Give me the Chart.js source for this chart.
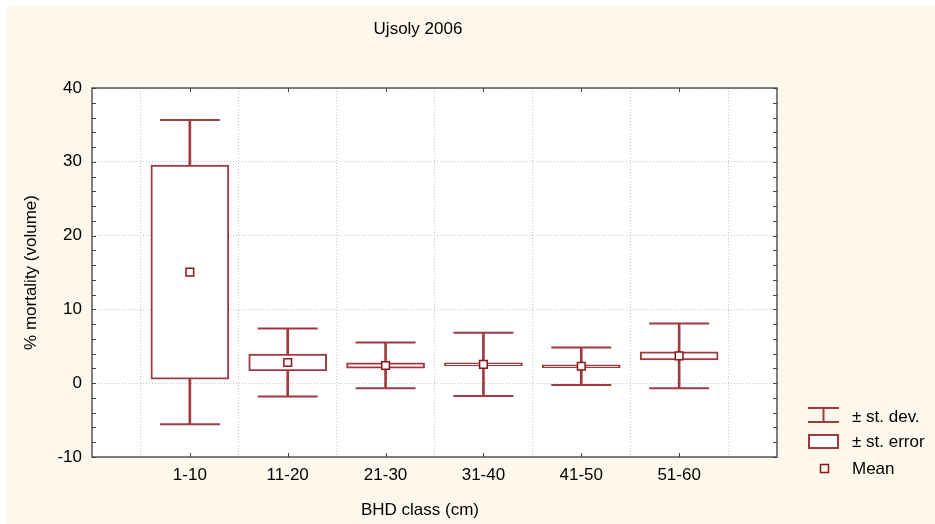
<!DOCTYPE html>
<html>
<head>
<meta charset="utf-8">
<script src="https://cdn.jsdelivr.net/npm/chart.js@4.4.1/dist/chart.umd.min.js"></script>
<style>
  html, body { margin: 0; padding: 0; background: #fff; }
  #wrap { position: relative; width: 935px; height: 524px; overflow: hidden; }
  #bg { position: absolute; left: 7px; top: 6px; right: 0; bottom: 0; background: #fef8ec; }
  #c { position: absolute; left: 0; top: 0; }
</style>
</head>
<body>
<div id="wrap"><div id="bg"></div><canvas id="c" width="935" height="524"></canvas></div>
<script>
/* Ujsoly 2006 — % mortality by BHD class, mean ± SE ± SD */
const classes = ["1-10", "11-20", "21-30", "31-40", "41-50", "51-60"];
const means   = [15.05, 2.8, 2.4, 2.55, 2.3, 3.7];
const stdErr  = [14.5, 1.15, 0.35, 0.2, 0.18, 0.55];
const stdDev  = [20.6, 4.6, 3.1, 4.3, 2.53, 4.4];
const yMin = -10, yMax = 40, yStep = 10;

const FONT = "'Liberation Sans', Arial, sans-serif";
const RED = "#a13a40";
const DARK = "#8b1418";

const xs = classes.map((_, i) => i + 1);
const boxData  = xs.map((x, i) => ({ x, y: [means[i] - stdErr[i], means[i] + stdErr[i]] }));
const stemData = xs.map((x, i) => ({ x, y: [means[i] - stdDev[i], means[i] + stdDev[i]] }));
const capData  = xs.flatMap((x, i) => [{ x, y: means[i] + stdDev[i] }, { x, y: means[i] - stdDev[i] }]);
const meanData = xs.map((x, i) => ({ x, y: means[i] }));

const frame = {
  id: "frame",
  beforeDraw(chart) {
    const { ctx, chartArea: a } = chart;
    ctx.save();
    ctx.fillStyle = "#fff";
    ctx.fillRect(a.left, a.top, a.right - a.left, a.bottom - a.top);
    ctx.restore();
  },
  afterDraw(chart) {
    const { ctx, chartArea: a, scales } = chart;
    ctx.save();
    // frame
    ctx.strokeStyle = "#555";
    ctx.lineWidth = 1.5;
    ctx.strokeRect(a.left, a.top, a.right - a.left, a.bottom - a.top);
    ctx.strokeStyle = "#7d7d7d";
    ctx.lineWidth = 2;
    ctx.beginPath(); ctx.moveTo(a.right, a.top); ctx.lineTo(a.right, a.bottom + 1); ctx.stroke();
    // inner tick marks
    ctx.strokeStyle = "#444";
    ctx.lineWidth = 1;
    ctx.beginPath();
    for (let v = yMin; v <= yMax; v += 2) {
      const y = Math.round(scales.y.getPixelForValue(v)) + 0.5;
      ctx.moveTo(a.left, y); ctx.lineTo(a.left + 4, y);
      ctx.moveTo(a.right - 4, y); ctx.lineTo(a.right, y);
    }
    xs.forEach((v) => {
      const x = Math.round(scales.x.getPixelForValue(v)) + 0.5;
      ctx.moveTo(x, a.bottom); ctx.lineTo(x, a.bottom - 4);
      ctx.moveTo(x, a.top); ctx.lineTo(x, a.top + 4);
    });
    ctx.stroke();

    // titles
    ctx.fillStyle = "#000";
    ctx.font = `17px ${FONT}`;
    ctx.textAlign = "center";
    ctx.textBaseline = "alphabetic";
    ctx.fillText("Ujsoly 2006", 418, 34);
    ctx.fillText("BHD class (cm)", 420, 515);
    ctx.save();
    ctx.translate(36, (a.top + a.bottom) / 2);
    ctx.rotate(-Math.PI / 2);
    ctx.fillText("% mortality (volume)", 0, 0);
    ctx.restore();

    // legend
    ctx.strokeStyle = RED;
    ctx.lineWidth = 2;
    ctx.beginPath();
    ctx.moveTo(808, 408); ctx.lineTo(839, 408);
    ctx.moveTo(808, 422); ctx.lineTo(839, 422);
    ctx.moveTo(823.5, 408); ctx.lineTo(823.5, 422);
    ctx.stroke();
    ctx.fillStyle = "#fff";
    ctx.fillRect(809, 435, 29, 13);
    ctx.strokeRect(809, 435, 29, 13);
    ctx.strokeStyle = DARK;
    ctx.lineWidth = 1.5;
    ctx.strokeRect(820.5, 464.5, 8, 8);
    ctx.fillStyle = "#000";
    ctx.textAlign = "left";
    ctx.font = `17px ${FONT}`;
    ctx.fillText("± st. dev.", 852, 422);
    ctx.fillText("± st. error", 852, 447);
    ctx.fillText("Mean", 852, 474);
    ctx.restore();
  },
};

new Chart(document.getElementById("c"), {
  type: "bar",
  data: {
    datasets: [
      { type: "scatter", data: meanData, order: 1, pointStyle: "rect", radius: 5.4,
        borderWidth: 1.5, borderColor: DARK, backgroundColor: "#fff" },
      { type: "bar", data: boxData, order: 2, grouped: false, barThickness: 78,
        backgroundColor: "#fff", borderColor: RED, borderWidth: 2, borderSkipped: false },
      { type: "scatter", data: capData, order: 3, pointStyle: "line", radius: 30,
        borderWidth: 2, borderColor: RED },
      { type: "bar", data: stemData, order: 4, grouped: false, barThickness: 2,
        backgroundColor: RED, borderWidth: 0 },
    ],
  },
  options: {
    responsive: false, animation: false, devicePixelRatio: 1, events: [],
    layout: { padding: { left: 0, top: 88, right: 158, bottom: 0 } },
    plugins: { legend: { display: false }, tooltip: { enabled: false }, title: { display: false } },
    scales: {
      x: {
        type: "linear", min: 0, max: 7, offset: false,
        ticks: { stepSize: 1, autoSkip: false, maxRotation: 0, padding: 8, color: "#000",
          font: { family: FONT, size: 17 }, callback: (v) => classes[v - 1] || "" },
        grid: { color: "#c4c4c4", lineWidth: 1, drawTicks: false },
        border: { display: false, dash: [1, 2] },
        afterFit: (s) => { s.height = 67; },
      },
      y: {
        min: yMin, max: yMax,
        ticks: { stepSize: yStep, padding: 10, color: "#000", font: { family: FONT, size: 17 } },
        grid: { color: "#c4c4c4", lineWidth: 1, drawTicks: false },
        border: { display: false, dash: [1, 2] },
        afterFit: (s) => { s.width = 92; },
      },
    },
  },
  plugins: [frame],
});
</script>
</body>
</html>
